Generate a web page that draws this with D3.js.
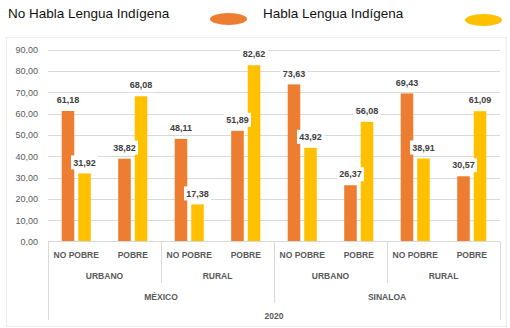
<!DOCTYPE html>
<html>
<head>
<meta charset="utf-8">
<script src="https://cdn.jsdelivr.net/npm/d3@7"></script>
<style>
  body { margin: 0; background: #fff; }
  svg { display: block; font-family: "Liberation Sans", Arial, sans-serif; }
</style>
</head>
<body>
<script>
// datos
var pobreza = ["NO POBRE", "POBRE", "NO POBRE", "POBRE", "NO POBRE", "POBRE", "NO POBRE", "POBRE"];
var zonas = ["URBANO", "RURAL", "URBANO", "RURAL"];
var regiones = ["MÉXICO", "SINALOA"];
var anio = "2020";
var noHabla = [61.18, 38.82, 48.11, 51.89, 73.63, 26.37, 69.43, 30.57];
var habla = [31.92, 68.08, 17.38, 82.62, 43.92, 56.08, 38.91, 61.09];
var series = ["No Habla Lengua Indígena", "Habla Lengua Indígena"];
var colores = ["#ED7D31", "#FFC000"];
var yTicks = [0, 10, 20, 30, 40, 50, 60, 70, 80, 90];

var width = 510, height = 328;
var svg = d3.select("body").append("svg")
    .attr("width", width)
    .attr("height", height);

var fmt = d => d.toFixed(2).replace(".", ",");

// borde del area
svg.append("rect")
    .attr("x", 6.5).attr("y", 37.5)
    .attr("width", 500).attr("height", 289)
    .attr("fill", "none")
    .attr("stroke", "#ececec");

// leyenda
var leyX = [8, 263], elX = [228.5, 483.5];
series.forEach((s, i) => {
    svg.append("text")
        .attr("x", leyX[i]).attr("y", 18)
        .attr("font-size", 13.5)
        .attr("fill", "#111")
        .text(s);
    svg.append("ellipse")
        .attr("cx", elX[i]).attr("cy", 19 + i)
        .attr("rx", 18.5).attr("ry", 6)
        .attr("fill", colores[i]);
});

var x0 = 48, x1 = 500;
var idx = d3.range(noHabla.length);

var x = d3.scaleBand()
    .domain(idx)
    .range([x0, x1]);

var xs = d3.scaleBand()
    .domain([0, 1])
    .range([0, x.bandwidth()])
    .paddingInner(0.24)
    .paddingOuter(0.83);

var y = d3.scaleLinear()
    .domain([0, 90])
    .range([241.5, 49.5]);

// lineas de cuadricula
svg.append("g").selectAll("line")
    .data(yTicks.slice(1))
    .enter().append("line")
    .attr("x1", x0).attr("x2", x1)
    .attr("y1", d => Math.round(y(d)) + 0.5)
    .attr("y2", d => Math.round(y(d)) + 0.5)
    .attr("stroke", "#d9d9d9");

// eje y
var yAxis = d3.axisLeft(y)
    .tickValues(yTicks)
    .tickFormat(fmt)
    .tickSize(0)
    .tickPadding(0);
var gy = svg.append("g")
    .attr("transform", "translate(38,0)")
    .call(yAxis);
gy.select(".domain").remove();
gy.selectAll("text")
    .attr("font-family", "Liberation Sans, Arial, sans-serif")
    .attr("font-size", 9)
    .attr("fill", "#595959");

// barras
var datos = [noHabla, habla];
datos.forEach((serie, s) => {
    svg.append("g").selectAll("rect")
        .data(serie)
        .enter().append("rect")
        .attr("x", (d, i) => x(i) + xs(s))
        .attr("y", d => y(d))
        .attr("width", xs.bandwidth())
        .attr("height", d => y(0) - y(d))
        .attr("fill", colores[s]);
});

// etiquetas de valor
datos.forEach((serie, s) => {
    var g = svg.append("g").selectAll("g")
        .data(serie)
        .enter().append("g")
        .attr("transform", (d, i) => `translate(${x(i) + xs(s) + xs.bandwidth() / 2}, ${y(d) - 11})`);
    g.append("rect")
        .attr("x", -13.5).attr("y", -7)
        .attr("width", 27).attr("height", 14)
        .attr("fill", "#fff");
    g.append("text")
        .attr("text-anchor", "middle")
        .attr("dy", "0.35em")
        .attr("font-size", 9)
        .attr("font-weight", "bold")
        .attr("fill", "#404040")
        .text(fmt);
});

// eje x multinivel
var axisCol = "#d9d9d9";
svg.append("line")
    .attr("x1", x0).attr("x2", x1)
    .attr("y1", 241.5).attr("y2", 241.5)
    .attr("stroke", axisCol);

var sep = svg.append("g").attr("stroke", axisCol);
[[x0, 320], [x1, 320], [x(2), 283], [x(6), 283], [x(4), 303]].forEach(p => {
    sep.append("line")
        .attr("x1", Math.round(p[0]) + 0.5).attr("x2", Math.round(p[0]) + 0.5)
        .attr("y1", 241.5).attr("y2", p[1]);
});

var etiq = svg.append("g")
    .attr("font-size", 8.5)
    .attr("font-weight", "bold")
    .attr("fill", "#595959")
    .attr("text-anchor", "middle");

pobreza.forEach((p, i) => {
    etiq.append("text")
        .attr("x", x(i) + x.bandwidth() / 2)
        .attr("y", 258)
        .text(p);
});
zonas.forEach((z, i) => {
    etiq.append("text")
        .attr("x", x(i * 2) + x.bandwidth())
        .attr("y", 279)
        .text(z);
});
regiones.forEach((r, i) => {
    etiq.append("text")
        .attr("x", x(i * 4) + x.bandwidth() * 2)
        .attr("y", 299.5)
        .text(r);
});
etiq.append("text")
    .attr("x", (x0 + x1) / 2)
    .attr("y", 318.5)
    .text(anio);
</script>
</body>
</html>
